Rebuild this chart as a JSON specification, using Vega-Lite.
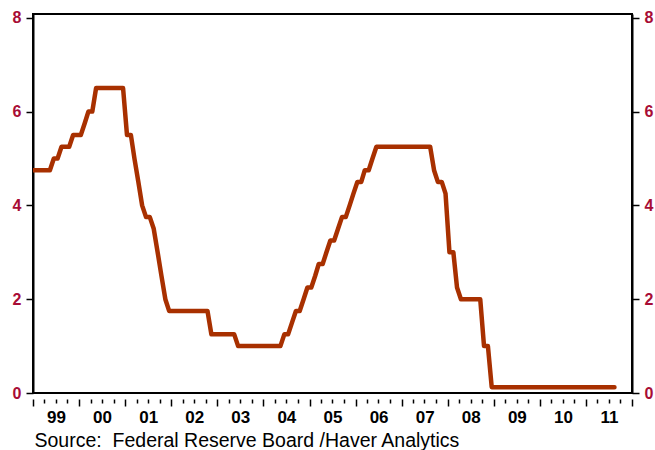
{
  "$schema": "https://vega.github.io/schema/vega-lite/v6.json",
  "autosize": "none",
  "width": 599,
  "height": 379,
  "padding": {"left": 33, "top": 14, "right": 23, "bottom": 57},
  "background": "white",
  "config": {
    "view": {"stroke": "black", "strokeWidth": 2},
    "font": "Liberation Sans"
  },
  "data": {"values": [
    {"d":"1998-12-15","v":4.75},
    {"d":"1999-01-15","v":4.75},{"d":"1999-02-15","v":4.75},{"d":"1999-03-15","v":4.75},{"d":"1999-04-15","v":4.75},{"d":"1999-05-15","v":4.75},{"d":"1999-06-15","v":5.0},{"d":"1999-07-15","v":5.0},{"d":"1999-08-15","v":5.25},{"d":"1999-09-15","v":5.25},{"d":"1999-10-15","v":5.25},{"d":"1999-11-15","v":5.5},{"d":"1999-12-15","v":5.5},
    {"d":"2000-01-15","v":5.5},{"d":"2000-02-15","v":5.75},{"d":"2000-03-15","v":6.0},{"d":"2000-04-15","v":6.0},{"d":"2000-05-15","v":6.5},{"d":"2000-06-15","v":6.5},{"d":"2000-07-15","v":6.5},{"d":"2000-08-15","v":6.5},{"d":"2000-09-15","v":6.5},{"d":"2000-10-15","v":6.5},{"d":"2000-11-15","v":6.5},{"d":"2000-12-15","v":6.5},
    {"d":"2001-01-15","v":5.5},{"d":"2001-02-15","v":5.5},{"d":"2001-03-15","v":5.0},{"d":"2001-04-15","v":4.5},{"d":"2001-05-15","v":4.0},{"d":"2001-06-15","v":3.75},{"d":"2001-07-15","v":3.75},{"d":"2001-08-15","v":3.5},{"d":"2001-09-15","v":3.0},{"d":"2001-10-15","v":2.5},{"d":"2001-11-15","v":2.0},{"d":"2001-12-15","v":1.75},
    {"d":"2002-01-15","v":1.75},{"d":"2002-02-15","v":1.75},{"d":"2002-03-15","v":1.75},{"d":"2002-04-15","v":1.75},{"d":"2002-05-15","v":1.75},{"d":"2002-06-15","v":1.75},{"d":"2002-07-15","v":1.75},{"d":"2002-08-15","v":1.75},{"d":"2002-09-15","v":1.75},{"d":"2002-10-15","v":1.75},{"d":"2002-11-15","v":1.25},{"d":"2002-12-15","v":1.25},
    {"d":"2003-01-15","v":1.25},{"d":"2003-02-15","v":1.25},{"d":"2003-03-15","v":1.25},{"d":"2003-04-15","v":1.25},{"d":"2003-05-15","v":1.25},{"d":"2003-06-15","v":1.0},{"d":"2003-07-15","v":1.0},{"d":"2003-08-15","v":1.0},{"d":"2003-09-15","v":1.0},{"d":"2003-10-15","v":1.0},{"d":"2003-11-15","v":1.0},{"d":"2003-12-15","v":1.0},
    {"d":"2004-01-15","v":1.0},{"d":"2004-02-15","v":1.0},{"d":"2004-03-15","v":1.0},{"d":"2004-04-15","v":1.0},{"d":"2004-05-15","v":1.0},{"d":"2004-06-15","v":1.25},{"d":"2004-07-15","v":1.25},{"d":"2004-08-15","v":1.5},{"d":"2004-09-15","v":1.75},{"d":"2004-10-15","v":1.75},{"d":"2004-11-15","v":2.0},{"d":"2004-12-15","v":2.25},
    {"d":"2005-01-15","v":2.25},{"d":"2005-02-15","v":2.5},{"d":"2005-03-15","v":2.75},{"d":"2005-04-15","v":2.75},{"d":"2005-05-15","v":3.0},{"d":"2005-06-15","v":3.25},{"d":"2005-07-15","v":3.25},{"d":"2005-08-15","v":3.5},{"d":"2005-09-15","v":3.75},{"d":"2005-10-15","v":3.75},{"d":"2005-11-15","v":4.0},{"d":"2005-12-15","v":4.25},
    {"d":"2006-01-15","v":4.5},{"d":"2006-02-15","v":4.5},{"d":"2006-03-15","v":4.75},{"d":"2006-04-15","v":4.75},{"d":"2006-05-15","v":5.0},{"d":"2006-06-15","v":5.25},{"d":"2006-07-15","v":5.25},{"d":"2006-08-15","v":5.25},{"d":"2006-09-15","v":5.25},{"d":"2006-10-15","v":5.25},{"d":"2006-11-15","v":5.25},{"d":"2006-12-15","v":5.25},
    {"d":"2007-01-15","v":5.25},{"d":"2007-02-15","v":5.25},{"d":"2007-03-15","v":5.25},{"d":"2007-04-15","v":5.25},{"d":"2007-05-15","v":5.25},{"d":"2007-06-15","v":5.25},{"d":"2007-07-15","v":5.25},{"d":"2007-08-15","v":5.25},{"d":"2007-09-15","v":4.75},{"d":"2007-10-15","v":4.5},{"d":"2007-11-15","v":4.5},{"d":"2007-12-15","v":4.25},
    {"d":"2008-01-15","v":3.0},{"d":"2008-02-15","v":3.0},{"d":"2008-03-15","v":2.25},{"d":"2008-04-15","v":2.0},{"d":"2008-05-15","v":2.0},{"d":"2008-06-15","v":2.0},{"d":"2008-07-15","v":2.0},{"d":"2008-08-15","v":2.0},{"d":"2008-09-15","v":2.0},{"d":"2008-10-15","v":1.0},{"d":"2008-11-15","v":1.0},{"d":"2008-12-15","v":0.125},
    {"d":"2009-01-15","v":0.125},{"d":"2009-02-15","v":0.125},{"d":"2009-03-15","v":0.125},{"d":"2009-04-15","v":0.125},{"d":"2009-05-15","v":0.125},{"d":"2009-06-15","v":0.125},{"d":"2009-07-15","v":0.125},{"d":"2009-08-15","v":0.125},{"d":"2009-09-15","v":0.125},{"d":"2009-10-15","v":0.125},{"d":"2009-11-15","v":0.125},{"d":"2009-12-15","v":0.125},
    {"d":"2010-01-15","v":0.125},{"d":"2010-02-15","v":0.125},{"d":"2010-03-15","v":0.125},{"d":"2010-04-15","v":0.125},{"d":"2010-05-15","v":0.125},{"d":"2010-06-15","v":0.125},{"d":"2010-07-15","v":0.125},{"d":"2010-08-15","v":0.125},{"d":"2010-09-15","v":0.125},{"d":"2010-10-15","v":0.125},{"d":"2010-11-15","v":0.125},{"d":"2010-12-15","v":0.125},
    {"d":"2011-01-15","v":0.125},{"d":"2011-02-15","v":0.125},{"d":"2011-03-15","v":0.125},{"d":"2011-04-15","v":0.125},{"d":"2011-05-15","v":0.125},{"d":"2011-06-15","v":0.125},{"d":"2011-07-15","v":0.125},{"d":"2011-08-15","v":0.125}
  ]},
  "encoding": {
    "x": {
      "field": "d", "type": "temporal",
      "scale": {"type": "utc", "domain": [{"year": 1999, "month": 1, "date": 1, "utc": true}, {"year": 2012, "month": 1, "date": 1, "utc": true}]}
    },
    "y": {
      "field": "v", "type": "quantitative",
      "scale": {"domain": [0, 8.08], "nice": false, "zero": true}
    }
  },
  "layer": [
    {
      "mark": {"type": "line", "color": "#A83000", "strokeWidth": 4.5, "strokeCap": "round", "strokeJoin": "round", "clip": true},
      "encoding": {
        "x": {
          "field": "d", "type": "temporal",
          "axis": {
            "orient": "bottom", "offset": 6, "domain": false, "grid": false,
            "tickCount": {"interval": "month", "step": 3},
            "tickColor": "black", "tickWidth": 1.5,
            "tickSize": {"condition": {"test": "utcmonth(datum.value) == 0", "value": 7}, "value": 4},
            "labelExpr": "utcmonth(datum.value) == 0 && utcyear(datum.value) < 2012 ? utcFormat(datum.value, '%y') : ''",
            "labelOverlap": false, "labelFlush": false,
            "labelOffset": 23, "labelPadding": 3,
            "labelFont": "Liberation Sans", "labelFontSize": 17, "labelFontWeight": "bold", "labelColor": "black",
            "title": "Source:\u00a0 Federal Reserve Board /Haver Analytics",
            "titleFont": "Liberation Sans", "titleFontSize": 19.5, "titleFontWeight": "normal", "titleColor": "black",
            "titleAnchor": "start", "titleAlign": "left", "titleX": 1, "titleY": 47, "titleBaseline": "alphabetic"
          }
        },
        "y": {
          "field": "v", "type": "quantitative",
          "axis": {
            "orient": "left", "values": [0, 2, 4, 6, 8], "grid": false, "title": null,
            "domainColor": "black", "domainWidth": 2, "tickColor": "black", "tickWidth": 1.5, "tickSize": 7,
            "labelPadding": 5, "labelFont": "Liberation Sans", "labelFontSize": 16, "labelFontWeight": "bold", "labelColor": "#A80C35"
          }
        }
      }
    },
    {
      "mark": {"type": "line", "opacity": 0},
      "encoding": {
        "x": {"field": "d", "type": "temporal", "axis": null},
        "y": {
          "field": "v", "type": "quantitative",
          "axis": {
            "orient": "right", "values": [0, 2, 4, 6, 8], "grid": false, "title": null,
            "domainColor": "black", "domainWidth": 2, "tickColor": "black", "tickWidth": 1.5, "tickSize": 7,
            "labelPadding": 5, "labelFont": "Liberation Sans", "labelFontSize": 16, "labelFontWeight": "bold", "labelColor": "#A80C35"
          }
        }
      }
    }
  ],
  "resolve": {"axis": {"y": "independent", "x": "independent"}}
}
